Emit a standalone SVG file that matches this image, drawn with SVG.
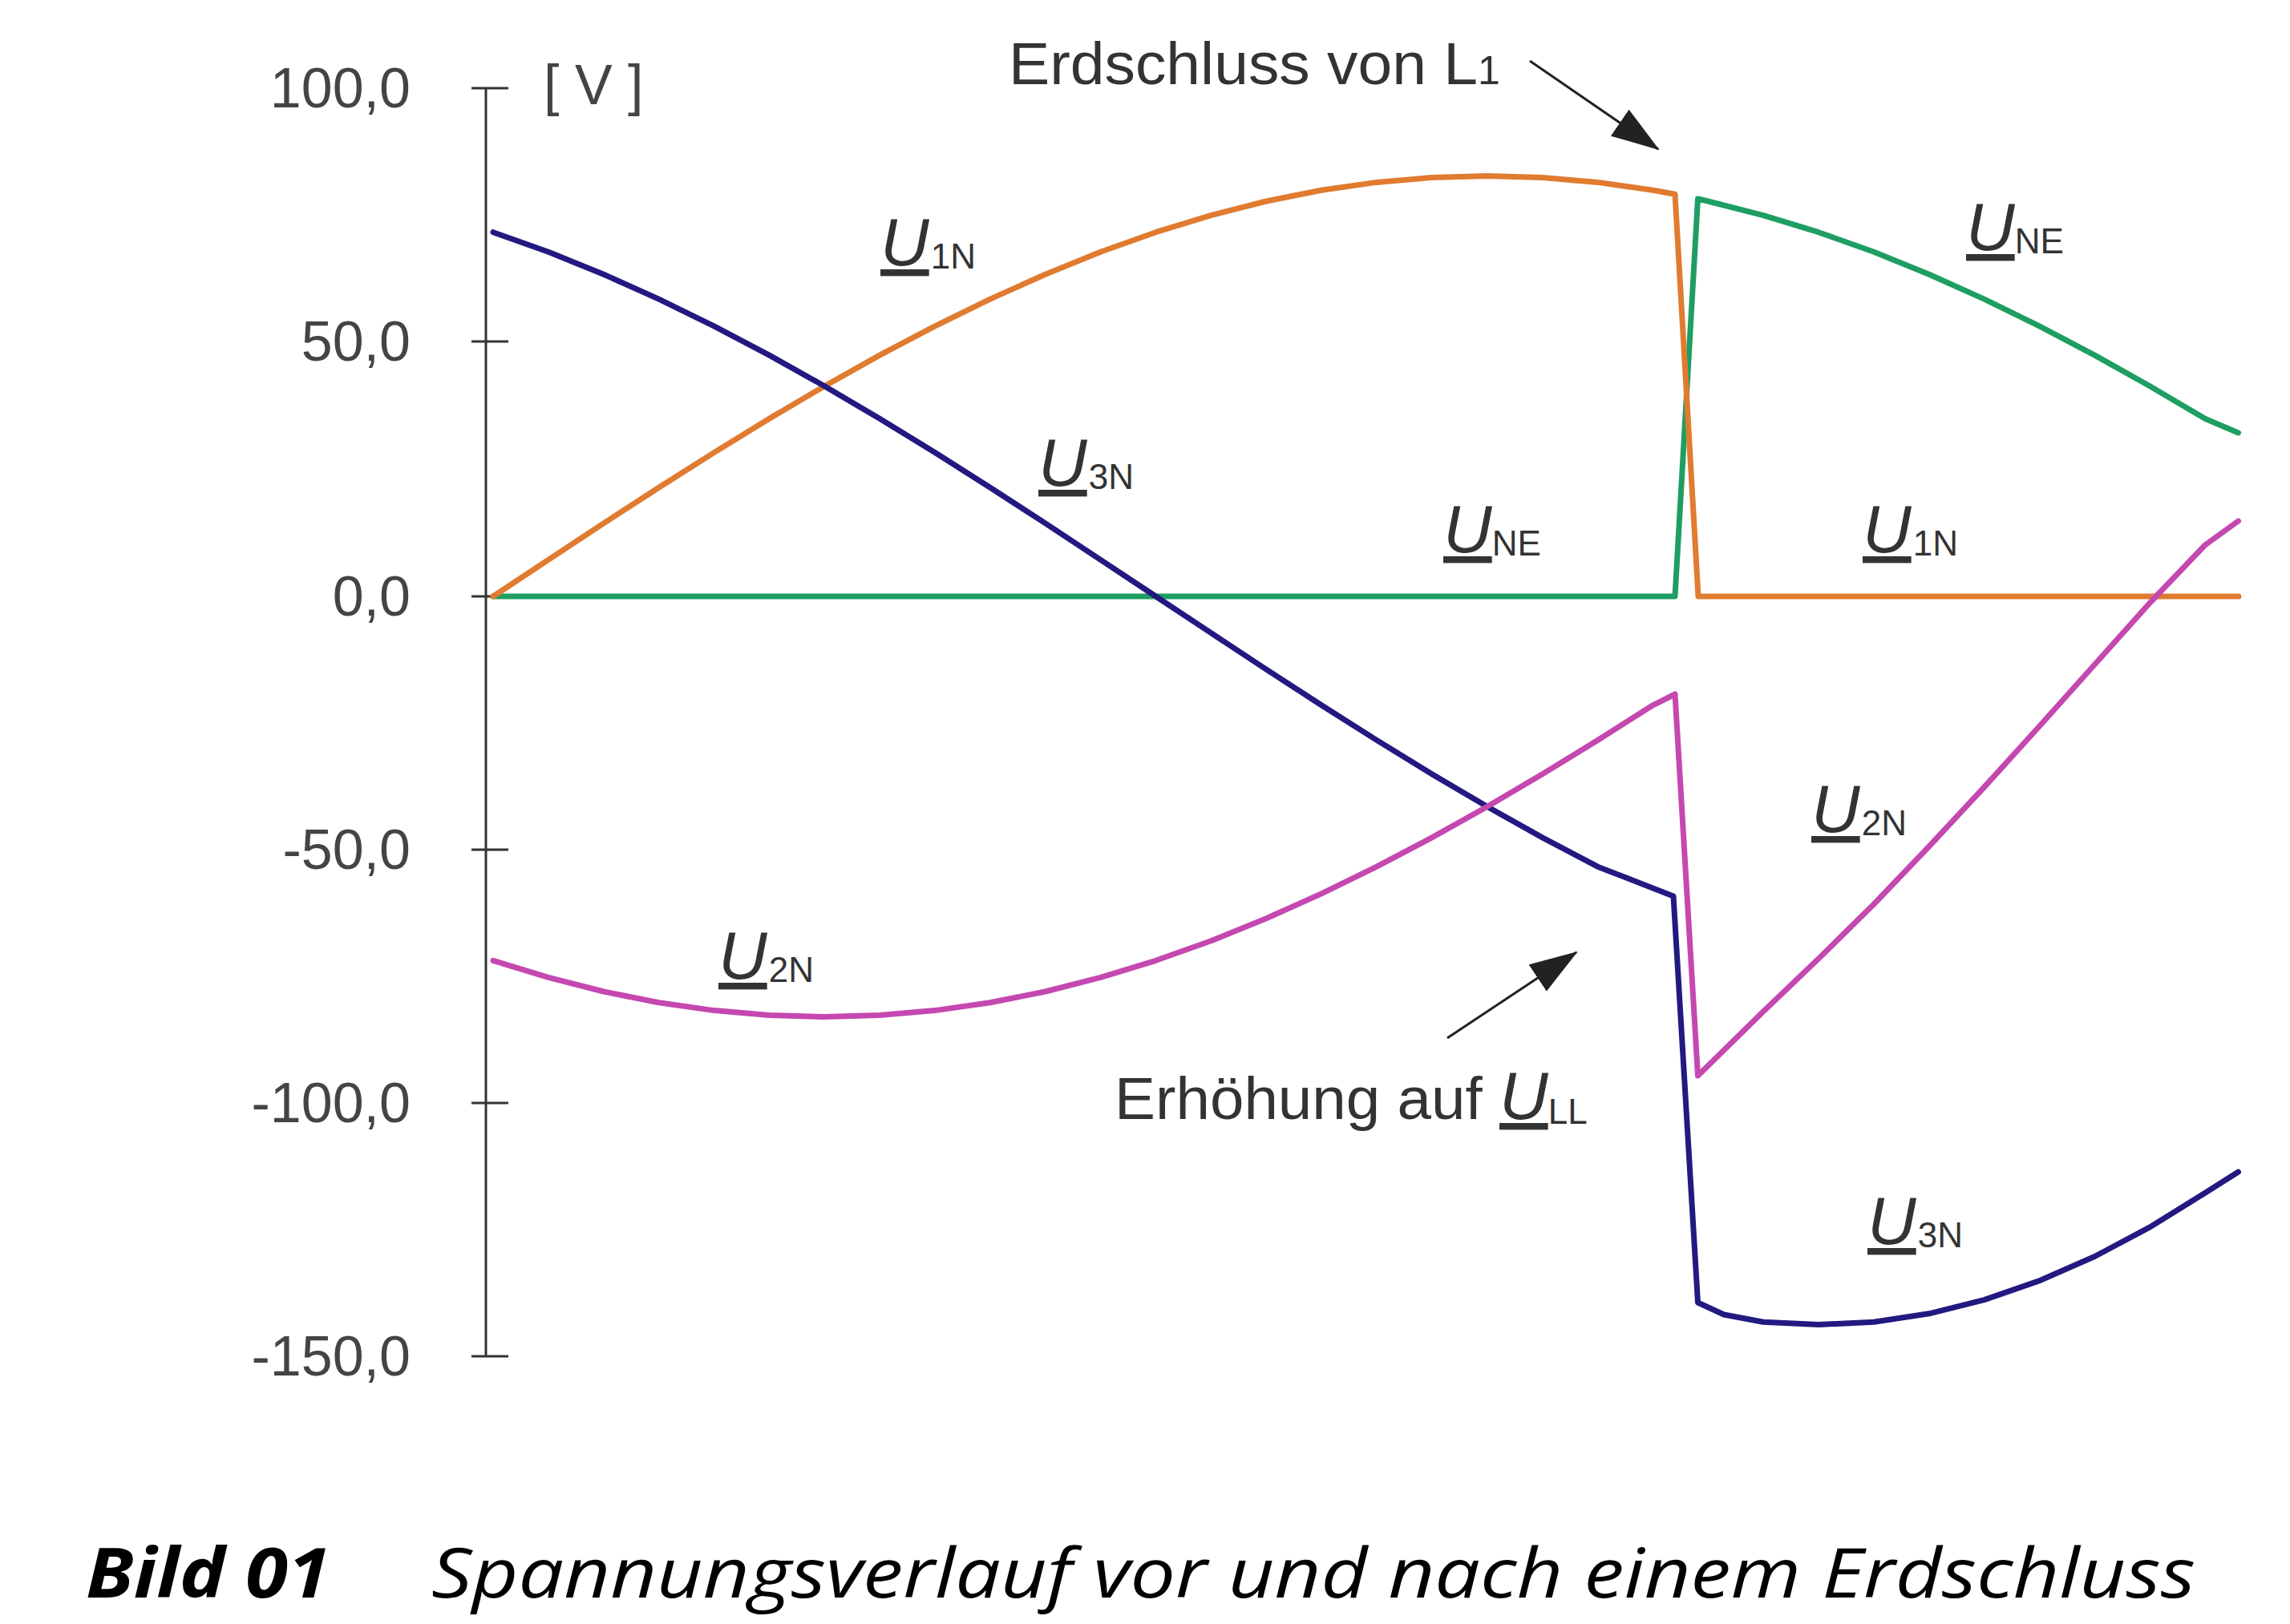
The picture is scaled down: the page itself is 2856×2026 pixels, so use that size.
<svg xmlns="http://www.w3.org/2000/svg" width="2856" height="2026" viewBox="0 0 2856 2026">
<defs>
<style>
.ax{stroke:#333;stroke-width:3;fill:none}
.tl{font-family:"Liberation Sans",Arial,sans-serif;font-size:70px;fill:#444;text-anchor:end}
.lab{font-family:"Liberation Sans",Arial,sans-serif;fill:#333}
.u{font-size:84px;font-style:italic;text-decoration:underline}
.s{font-size:44px}
.c{fill:none;stroke-width:7;stroke-linejoin:round;stroke-linecap:round}
.cap{font-family:"Open Sans","Liberation Sans",sans-serif;font-style:italic;font-size:86px;fill:#000}
</style>
<marker id="ah" markerWidth="60" markerHeight="40" refX="58" refY="20" orient="auto" markerUnits="userSpaceOnUse" viewBox="0 0 60 40">
<path d="M0,0 L60,20 L0,40 z" fill="#222"/>
</marker>
</defs>
<rect width="2856" height="2026" fill="#fff"/>
<g id="axis">
<line class="ax" x1="606" y1="110" x2="606" y2="1692"/>
<line class="ax" x1="588" y1="110" x2="634" y2="110"/>
<line class="ax" x1="588" y1="426" x2="634" y2="426"/>
<line class="ax" x1="588" y1="744" x2="634" y2="744"/>
<line class="ax" x1="588" y1="1060" x2="634" y2="1060"/>
<line class="ax" x1="588" y1="1376" x2="634" y2="1376"/>
<line class="ax" x1="588" y1="1692" x2="634" y2="1692"/>
<text class="tl" x="512" y="134">100,0</text>
<text class="tl" x="512" y="450">50,0</text>
<text class="tl" x="512" y="768">0,0</text>
<text class="tl" x="512" y="1084">-50,0</text>
<text class="tl" x="512" y="1400">-100,0</text>
<text class="tl" x="512" y="1716">-150,0</text>
<text class="tl" x="678" y="130" style="text-anchor:start">[ V ]</text>
</g>
<g id="connectors">
<polyline class="c" stroke="#1E9E62" points="615,744 2089,744 2117.5,248 2130,251 2199,268.6 2268,289.7 2337,314.2 2405.8,342.2 2474.6,373.1 2543.5,406.8 2612.4,443.1 2681.3,481.7 2750,522.3 2791.5,540"/>
<polyline class="c" stroke="#E07B30" points="615,744 683.9,698.3 752.8,652.9 821.6,608.2 890.5,564.6 959.4,522.3 1028.3,481.7 1097.1,443.1 1166,406.8 1234.9,373.1 1303.8,342.2 1372.6,314.2 1441.5,289.7 1510.4,268.6 1579.3,251 1648.1,237.3 1717,227.4 1785.9,221.4 1854.8,219.4 1923.6,221.4 1992.5,227.4 2061.4,237.3 2089,242.3 2118,744 2792,744"/>
<polyline class="c" stroke="#221A80" points="615,289.7 683.9,314.2 752.8,342.2 821.6,373.1 890.5,406.8 959.4,443.1 1028.3,481.7 1097.1,522.3 1166,564.6 1234.9,608.2 1303.8,652.9 1372.6,698.3 1441.5,744 1510.4,789.7 1579.3,835.1 1648.1,879.8 1717,923.4 1785.9,965.7 1854.8,1006.3 1923.6,1044.9 1992.5,1081.2 2061.4,1108 2087,1118 2117.5,1625 2150,1640 2199,1649.2 2268,1652.6 2337,1649.2 2405.8,1638.8 2474.6,1621.6 2543.5,1597.8 2612.4,1567.5 2681.3,1530.9 2750,1488.3 2791.5,1462"/>
<polyline class="c" stroke="#C548B0" points="615,1198.3 683.9,1219.4 752.8,1237 821.6,1250.7 890.5,1260.6 959.4,1266.6 1028.3,1268.6 1097.1,1266.6 1166,1260.6 1234.9,1250.7 1303.8,1237 1372.6,1219.4 1441.5,1198.3 1510.4,1173.8 1579.3,1145.8 1648.1,1114.9 1717,1081.2 1785.9,1044.9 1854.8,1006.3 1923.6,965.7 1992.5,923.4 2061.4,879.8 2089,866 2117.5,1342 2199,1262 2268,1196 2337,1128 2405.8,1056 2474.6,982 2543.5,906 2612.4,829 2681.3,752 2750,680 2791.5,650"/>
<line stroke="#222" stroke-width="3" x1="1908" y1="76" x2="2068" y2="186" marker-end="url(#ah)"/>
<line stroke="#222" stroke-width="3" x1="1805" y1="1295" x2="1966" y2="1188" marker-end="url(#ah)"/>
</g>
<g id="labels" class="lab">
<text x="1098" y="331"><tspan class="u">U</tspan><tspan class="s" dx="2" dy="4">1N</tspan></text>
<text x="1295" y="606"><tspan class="u">U</tspan><tspan class="s" dx="2" dy="4">3N</tspan></text>
<text x="1800" y="689"><tspan class="u">U</tspan><tspan class="s" dx="0" dy="4">NE</tspan></text>
<text x="2452" y="312"><tspan class="u">U</tspan><tspan class="s" dx="0" dy="4">NE</tspan></text>
<text x="2323" y="689"><tspan class="u">U</tspan><tspan class="s" dx="2" dy="4">1N</tspan></text>
<text x="896" y="1221"><tspan class="u">U</tspan><tspan class="s" dx="2" dy="4">2N</tspan></text>
<text x="2259" y="1038"><tspan class="u">U</tspan><tspan class="s" dx="2" dy="4">2N</tspan></text>
<text x="2329" y="1552"><tspan class="u">U</tspan><tspan class="s" dx="2" dy="4">3N</tspan></text>
<text x="1258" y="105" font-size="74"><tspan textLength="585" lengthAdjust="spacingAndGlyphs">Erdschluss von L</tspan><tspan font-size="50">1</tspan></text>
<text x="1390" y="1396" font-size="74"><tspan textLength="480" lengthAdjust="spacingAndGlyphs">Erhöhung auf </tspan><tspan class="u">U</tspan><tspan class="s" dx="0" dy="6">LL</tspan></text>
</g>
<g id="caption">
<text class="cap" x="107" y="1993" font-weight="bold" textLength="305" lengthAdjust="spacingAndGlyphs">Bild 01</text>
<text class="cap" x="538" y="1993" textLength="2200" lengthAdjust="spacingAndGlyphs">Spannungsverlauf vor und nach einem Erdschluss</text>
</g>
</svg>
